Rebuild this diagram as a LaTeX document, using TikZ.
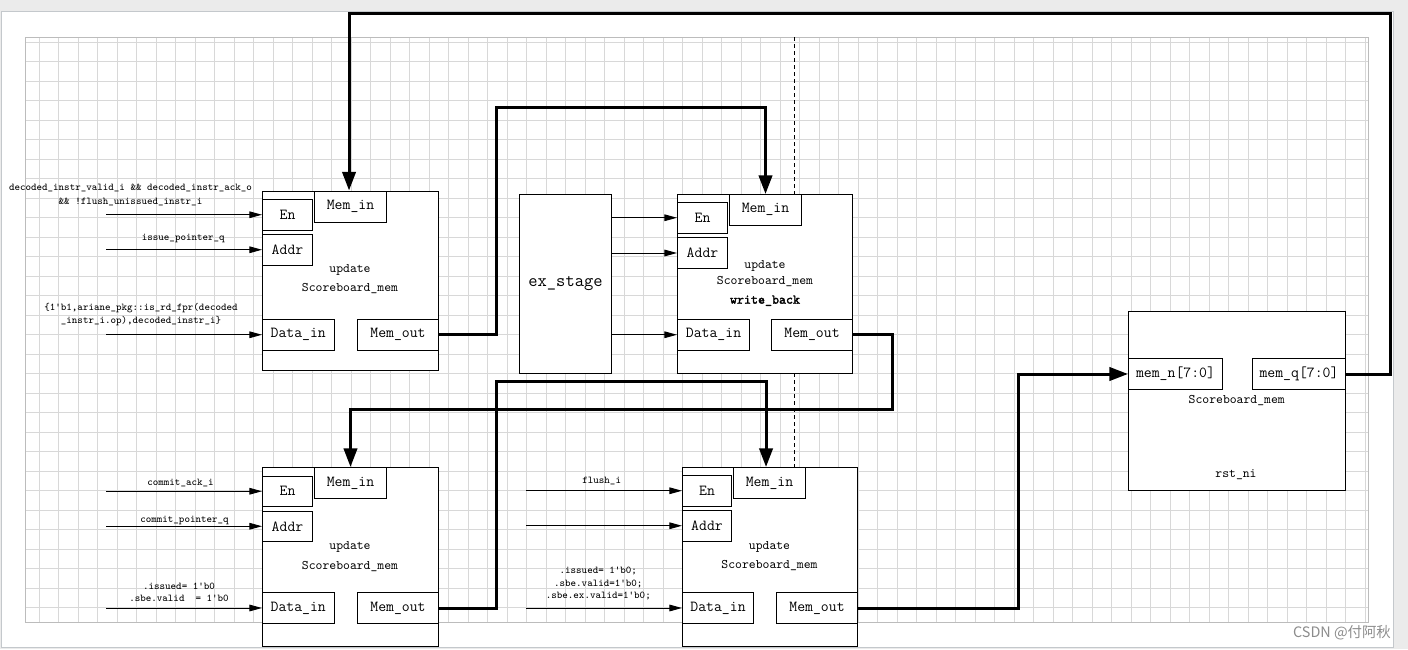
\documentclass[tikz,border=0pt]{standalone}
\usepackage{fontspec}
\newfontfamily\cjk{Noto Sans CJK SC}
\newfontfamily\wbfont{lmmono10-regular.otf}[FakeBold=2.2]
\usetikzlibrary{arrows.meta}
\definecolor{bggrey}{RGB}{235,235,235}
\definecolor{pageedge}{RGB}{196,200,204}
\definecolor{gridline}{RGB}{216,216,216}
\definecolor{gridframe}{RGB}{188,188,188}
\definecolor{wmark}{RGB}{140,140,140}
\begin{document}
\begin{tikzpicture}[x=0.75pt,y=-0.75pt,
  box/.style={draw=black, line width=0.75pt, fill=white, inner sep=0pt},
  port/.style={box, font=\ttfamily\fontsize{11.5}{13}\selectfont},
  stagebox/.style={box, font=\ttfamily\fontsize{13.5}{16}\selectfont},
  title/.style={inner sep=0pt, font=\ttfamily\fontsize{9.8}{11}\selectfont},
  lbl/.style={inner sep=0pt, align=center, font=\ttfamily\fontsize{7.8}{9.4}\selectfont},
  sig/.style={line width=0.75pt, -{Triangle[length=9.5pt,width=5pt]}},
  bus/.style={line width=2.25pt, -{Triangle[length=14pt,width=10pt]}},
  gridln/.style={draw=gridline, line width=0.75pt}
]
% page
\fill[bggrey] (0,0) rectangle (1408,649);
\fill[white, draw=pageedge, line width=0.75pt] (1,12) rectangle (1393,647);
\useasboundingbox (0,0) rectangle (1408,649);
% grid
\foreach \k in {0,...,68} \draw[gridln] ({39.3+\k*19.5},37.3) -- ({39.3+\k*19.5},622.5);
\foreach \k in {0,...,29} \draw[gridln] (25.3,{42.3+\k*19.5}) -- (1368,{42.3+\k*19.5});
\draw[gridframe, line width=0.75pt] (25.3,37.3) rectangle (1368,622.5);
% dashed divider
\draw[line width=0.6pt, dash pattern=on 3pt off 2.25pt] (794.5,37.3) -- (794.5,467.5);

% ---- block 1 (top left)
\node[box, minimum width=132pt, minimum height=134.25pt] (b1) at (350.5,280.5) {};
\node[port, minimum width=37.5pt, minimum height=22.875pt] (b1en) at (287.5,214.75) {En};
\node[port, minimum width=54pt, minimum height=23.625pt] (b1mi) at (350.5,206.75) {Mem\_in};
\node[port, minimum width=37.5pt, minimum height=22.875pt] (b1ad) at (287.5,249.75) {Addr};
\node[port, minimum width=53.625pt, minimum height=22.875pt] (b1di) at (298.25,334.75) {Data\_in};
\node[port, minimum width=60.75pt, minimum height=22.875pt] (b1mo) at (398,334.75) {Mem\_out};
\node[title] (b1t1) at (350,270) {update};
\node[title] (b1t2) at (350,288.5) {Scoreboard\_mem};

% ---- ex_stage and block 2 (write_back)
\node[stagebox, minimum width=69pt, minimum height=134.25pt] (ex) at (565.5,284) {ex\_stage};
\node[box, minimum width=131.25pt, minimum height=134.25pt] (b2) at (765,284) {};
\node[port, minimum width=37.5pt, minimum height=22.875pt] (b2en) at (702.5,217.75) {En};
\node[port, minimum width=54pt, minimum height=22.875pt] (b2mi) at (765.5,209.75) {Mem\_in};
\node[port, minimum width=37.5pt, minimum height=23.25pt] (b2ad) at (702.5,253) {Addr};
\node[port, minimum width=54pt, minimum height=22.875pt] (b2di) at (713.5,334.75) {Data\_in};
\node[port, minimum width=60.75pt, minimum height=22.875pt] (b2mo) at (812,334.75) {Mem\_out};
\node[title] (b2t1) at (765,266.3) {update};
\node[title] (b2t2) at (765,282) {Scoreboard\_mem};
\node[title, font=\wbfont\fontsize{10}{11}\selectfont] (b2t3) at (765,300.7) {write\_back};

% ---- block 3 (bottom left)
\node[box, minimum width=132pt, minimum height=133.875pt] (b3) at (350.5,556.75) {};
\node[port, minimum width=37.5pt, minimum height=22.875pt] (b3en) at (287.5,491.25) {En};
\node[port, minimum width=54pt, minimum height=23.25pt] (b3mi) at (350.5,483) {Mem\_in};
\node[port, minimum width=37.5pt, minimum height=22.125pt] (b3ad) at (287.5,526.25) {Addr};
\node[port, minimum width=53.625pt, minimum height=23.25pt] (b3di) at (298.25,608) {Data\_in};
\node[port, minimum width=60.75pt, minimum height=23.25pt] (b3mo) at (398,608) {Mem\_out};
\node[title] (b3t1) at (350,547.3) {update};
\node[title] (b3t2) at (350,566.5) {Scoreboard\_mem};

% ---- block 4 (bottom middle)
\node[box, minimum width=131.25pt, minimum height=133.875pt] (b4) at (770,556.75) {};
\node[port, minimum width=36.75pt, minimum height=22.875pt] (b4en) at (707,490.75) {En};
\node[port, minimum width=54pt, minimum height=23.25pt] (b4mi) at (769.5,483) {Mem\_in};
\node[port, minimum width=36.75pt, minimum height=22.875pt] (b4ad) at (707,525.75) {Addr};
\node[port, minimum width=53.25pt, minimum height=23.25pt] (b4di) at (718,608) {Data\_in};
\node[port, minimum width=60.75pt, minimum height=23.25pt] (b4mo) at (817,608) {Mem\_out};
\node[title] (b4t1) at (769.5,547.3) {update};
\node[title] (b4t2) at (769.5,566) {Scoreboard\_mem};

% ---- Scoreboard_mem register
\node[box, minimum width=162.75pt, minimum height=133.875pt] (sm) at (1237,400.75) {};
\node[port, minimum width=70.5pt, minimum height=23.25pt] (smn) at (1175.5,374) {mem\_n[7:0]};
\node[port, minimum width=69.75pt, minimum height=23.25pt] (smq) at (1299,374) {mem\_q[7:0]};
\node[title] (smt1) at (1236.7,401) {Scoreboard\_mem};
\node[title] (smt2) at (1236,475) {rst\_ni};

% ---- input signals
\coordinate (inL) at (106,0);
\coordinate (inM) at (526,0);
\draw[sig] (inL |- b1en.west) -- (b1en.west);
\draw[sig] (inL |- b1ad.west) -- (b1ad.west);
\draw[sig] (inL |- b1di.west) -- (b1di.west);
\draw[sig] (ex.east |- b2en.west) -- (b2en.west);
\draw[sig] (ex.east |- b2ad.west) -- (b2ad.west);
\draw[sig] (ex.east |- b2di.west) -- (b2di.west);
\draw[sig] (inL |- b3en.west) -- (b3en.west);
\draw[sig] (inL |- b3ad.west) -- (b3ad.west);
\draw[sig] (inL |- b3di.west) -- (b3di.west);
\draw[sig] (inM |- b4en.west) -- (b4en.west);
\draw[sig] (inM |- b4ad.west) -- (b4ad.west);
\draw[sig] (inM |- b4di.west) -- (b4di.west);

% ---- signal labels
\node[lbl, font=\ttfamily\fontsize{7.8}{10.5}\selectfont] (l1) at (130.5,194.7) {decoded\_instr\_valid\_i \&\& decoded\_instr\_ack\_o\\\&\& !flush\_unissued\_instr\_i};
\node[lbl] (l2) at (183.3,238.3) {issue\_pointer\_q};
\node[lbl] (l3) at (141,314.5) {\{1'b1,ariane\_pkg::is\_rd\_fpr(decoded\\\_instr\_i.op),decoded\_instr\_i\}};
\node[lbl] (l4) at (180.5,483.3) {commit\_ack\_i};
\node[lbl] (l5) at (184.5,520) {commit\_pointer\_q};
\node[lbl, font=\ttfamily\fontsize{7.8}{8.7}\selectfont] (l6) at (179,592.5) {.issued= 1'b0\\.sbe.valid\ \ = 1'b0};
\node[lbl] (l7) at (601.7,480.7) {flush\_i};
\node[lbl] (l8) at (598.3,583.5) {.issued= 1'b0;\\.sbe.valid=1'b0;\\.sbe.ex.valid=1'b0;};

% ---- memory buses
\draw[bus] (b1mo.east) -| (496,108) -| (b2mi.north);
\draw[bus] (b2mo.east) -| (892,409) -| (b3mi.north);
\draw[bus] (b3mo.east) -| (496,381) -| ([xshift=-2.6pt]b4mi.north);
\draw[bus] (b4mo.east) -| (1018,374) -- (smn.west);
\draw[bus] (smq.east) -| (1390.5,14) -| ([xshift=-1.1pt]b1mi.north);

% watermark
\node[inner sep=0pt, text=wmark, font=\cjk\fontsize{10.8}{12}\selectfont] (wm) at (1342,632.5) {CSDN @付阿秋};
\end{tikzpicture}
\end{document}
